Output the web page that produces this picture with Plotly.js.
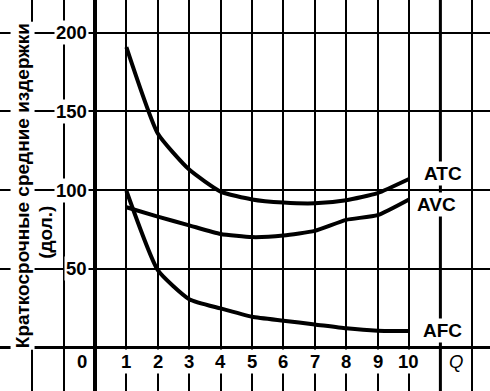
<!DOCTYPE html>
<html>
<head>
<meta charset="utf-8">
<script src="https://cdn.plot.ly/plotly-3.0.1.min.js"></script>
<style>html,body{margin:0;padding:0;background:#fff;}#chart{width:490px;height:391px;}</style>
</head>
<body>
<div id="chart"></div>
<script>
const Q = [1, 2, 3, 4, 5, 6, 7, 8, 9, 10];
const ATC = [191, 136, 113, 99, 94, 92, 91.5, 93.5, 98, 107];
const AVC = [89, 83, 77.5, 72, 70, 71, 74, 81, 84, 94];
const AFC = [99.5, 49, 30.5, 24.6, 19.3, 16.8, 14.4, 11.9, 10.4, 10.2];
const xTickLabels = ['1','2','3','4','5','6','7','8','9','10'];
const yTickVals = [200, 150, 100, 50];
const seriesNames = ['ATC', 'AVC', 'AFC'];

const FONT = 'Liberation Sans, Arial, sans-serif';
const lineStyle = {color: '#000', width: 4, shape: 'spline', smoothing: 0.5};

const traces = [ATC, AVC, AFC].map((ys, i) => ({
  x: Q, y: ys, type: 'scatter', mode: 'lines', name: seriesNames[i],
  line: lineStyle, hoverinfo: 'skip'
}));

const ann = [];
yTickVals.forEach(v => ann.push({
  x: -0.2, y: v, xref: 'x', yref: 'y', text: '<b>' + v + '</b>', showarrow: false,
  xanchor: 'right', yanchor: 'middle', bgcolor: '#fff', borderpad: 1,
  font: {family: FONT, size: 18.5, color: '#000'}
}));
Q.forEach((q, i) => ann.push({
  x: q, y: -9.5, xref: 'x', yref: 'y', text: '<b>' + xTickLabels[i] + '</b>', showarrow: false,
  xanchor: 'center', yanchor: 'middle', bgcolor: '#fff', borderpad: 1,
  font: {family: FONT, size: 18.5, color: '#000'}
}));
ann.push({x: -0.4, y: -9.5, xref: 'x', yref: 'y', text: '<b>0</b>', showarrow: false,
  xanchor: 'center', yanchor: 'middle', bgcolor: '#fff', borderpad: 1,
  font: {family: FONT, size: 18.5, color: '#000'}});
ann.push({x: 11.5, y: -9.5, xref: 'x', yref: 'y', text: '<i>Q</i>', showarrow: false,
  xanchor: 'center', yanchor: 'middle', bgcolor: '#fff', borderpad: 1,
  font: {family: FONT, size: 18.5, color: '#000'}});
const labelPos = [[11.08, 110.5], [10.88, 90.5], [11.08, 10.8]];
seriesNames.forEach((n, i) => ann.push({
  x: labelPos[i][0], y: labelPos[i][1], xref: 'x', yref: 'y', text: '<b>' + n + '</b>', showarrow: false,
  xanchor: 'center', yanchor: 'middle', bgcolor: '#fff', borderpad: 1,
  font: {family: FONT, size: 19, color: '#000'}
}));
ann.push({x: -2.32, y: 102.5, xref: 'x', yref: 'y', text: '<b>Краткосрочные средние издержки</b>',
  showarrow: false, textangle: -90, xanchor: 'center', yanchor: 'middle', bgcolor: '#fff', borderpad: 1,
  font: {family: FONT, size: 19, color: '#000'}});
ann.push({x: -1.58, y: 73, xref: 'x', yref: 'y', text: '<b>(дол.)</b>',
  showarrow: false, textangle: -90, xanchor: 'center', yanchor: 'middle', bgcolor: '#fff', borderpad: 1,
  font: {family: FONT, size: 19, color: '#000'}});

const layout = {
  width: 490, height: 391,
  margin: {l: 0, r: 0, t: 0, b: 0, pad: 0},
  paper_bgcolor: '#fff', plot_bgcolor: '#fff',
  showlegend: false,
  xaxis: {
    range: [-3.025, 12.58], tickvals: [-2,-1,0,1,2,3,4,5,6,7,8,9,10,11,12],
    showticklabels: false, ticks: '', showgrid: true, gridcolor: '#000', gridwidth: 2,
    zeroline: true, zerolinecolor: '#000', zerolinewidth: 3.5, showline: false, fixedrange: true
  },
  yaxis: {
    range: [-28, 221], tickvals: [0, 50, 100, 150, 200],
    showticklabels: false, ticks: '', showgrid: true, gridcolor: '#000', gridwidth: 2,
    zeroline: true, zerolinecolor: '#000', zerolinewidth: 3, showline: false, fixedrange: true
  },
  shapes: [
    {type: 'line', xref: 'x', yref: 'paper', x0: 11, x1: 11, y0: 0, y1: 1, line: {color: '#000', width: 3}, layer: 'below'}
  ],
  annotations: ann
};

Plotly.newPlot('chart', traces, layout, {staticPlot: true, displayModeBar: false});
</script>
</body>
</html>
